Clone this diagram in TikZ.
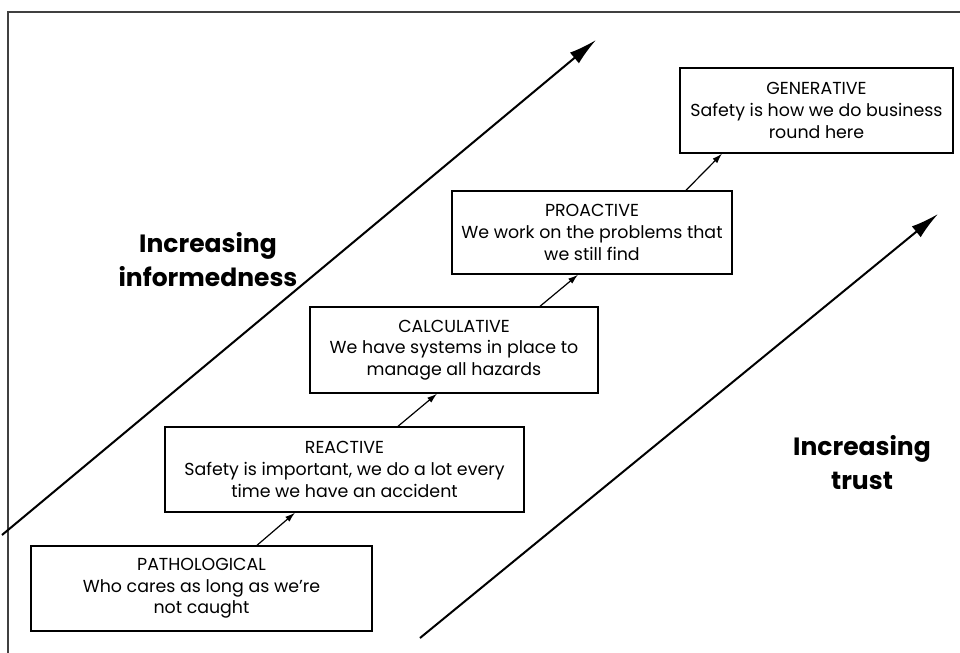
\documentclass[tikz,border=0pt]{standalone}
\usepackage{fontspec}
\setmainfont{Poppins}
\usetikzlibrary{arrows.meta,calc}

\tikzset{
  stage/.style={draw, line width=0.7pt, align=center, inner sep=0pt,
                font=\fontsize{8.7}{10.8}\selectfont},
  climb/.style={-{Latex[length=5pt,width=3.2pt]}, line width=0.6pt},
  trend/.style={-{Latex[length=14pt,width=7pt]}, line width=1pt},
  trendlabel/.style={align=center, font=\bfseries\fontsize{12.5}{17}\selectfont}
}

\begin{document}
\begin{tikzpicture}[x=0.5pt, y=-0.5pt]
    \useasboundingbox (0,0) rectangle (960,653);
    % frame (only top and left edges show)
    \draw[line width=0.7pt, black!75] (8,653) -- (8,12) -- (960,12);

    % the five stages
    \node[stage, minimum width=170.5pt, minimum height=42.5pt] (path) at (201.5,588.5)
      {PATHOLOGICAL\\ Who cares as long as we're\\ not caught};
    \node[stage, minimum width=179.5pt, minimum height=42.5pt] (react) at (344.5,469.5)
      {REACTIVE\\ Safety is important, we do a lot every\\ time we have an accident};
    \node[stage, minimum width=144pt, minimum height=43pt] (calc) at (454,350)
      {CALCULATIVE\\ We have systems in place to\\ manage all hazards};
    \node[stage, minimum width=140pt, minimum height=41.5pt] (pro) at (592,232.5)
      {PROACTIVE\\ We work on the problems that\\ we still find};
    \node[stage, minimum width=136.5pt, minimum height=42.5pt] (gen) at (816.5,110.5)
      {GENERATIVE\\ Safety is how we do business\\ round here};

    % steps up the ladder
    \draw[climb] ($(path.north)+(55.5,0)$) -- ($(react.south)+(-49.5,0)$);
    \draw[climb] ($(react.north)+(53.5,0)$) -- ($(calc.south)+(-17,0)$);
    \draw[climb] ($(calc.north)+(86,0)$) -- ($(pro.south)+(-14,0)$);
    \draw[climb] ($(pro.north)+(94,0)$) -- ($(gen.south)+(-94.5,0)$);

    % the two trends
    \coordinate (inf-from) at (2,535);
    \coordinate (inf-to) at (596,40);
    \coordinate (trust-from) at (420,638);
    \coordinate (trust-to) at (938,214);
    \draw[trend] (inf-from) -- (inf-to);
    \draw[trend] (trust-from) -- (trust-to);

    \node[trendlabel] (inf) at (208,260) {Increasing\\ informedness};
    \node[trendlabel] (trust) at (862,463) {Increasing\\ trust};
\end{tikzpicture}
\end{document}
